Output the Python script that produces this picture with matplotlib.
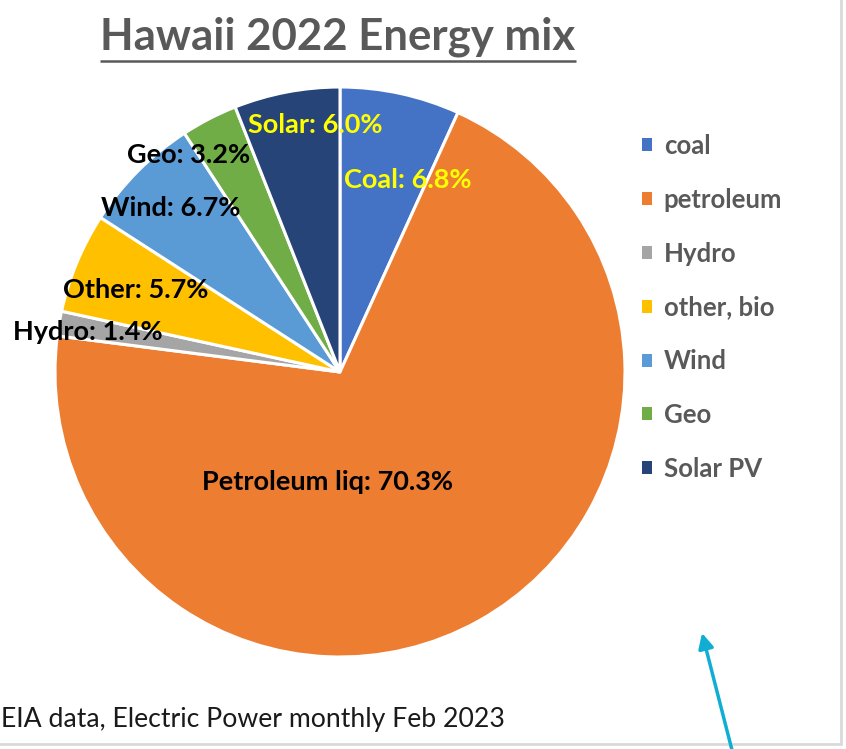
import matplotlib
matplotlib.use("Agg")
import matplotlib.pyplot as plt
from matplotlib.patches import Patch, Rectangle

# Hawaii 2022 electricity mix (EIA Electric Power Monthly, Feb 2023)
sources = ["coal", "petroleum", "Hydro", "other, bio", "Wind", "Geo", "Solar PV"]
label_names = ["Coal", "Petroleum liq", "Hydro", "Other", "Wind", "Geo", "Solar"]
shares = [6.8, 70.3, 1.4, 5.7, 6.7, 3.2, 6.0]
colors = ["#4472C4", "#ED7D31", "#A5A5A5", "#FFC000", "#5B9BD5", "#70AD47", "#264478"]
label_colors = ["#FFFF00", "black", "black", "black", "black", "black", "#FFFF00"]

# label anchor points, in pixels from the top-left corner
label_pos = [(408, 180), (327, 482), (88, 332), (136, 290), (171, 208), (189, 155), (315, 125)]

W, H = 846, 749
FONT = "Lato"

fig = plt.figure(figsize=(W / 100, H / 100), dpi=100)
ax = fig.add_axes([0, 0, 1, 1])

wedges, _ = ax.pie(
    shares,
    colors=colors,
    startangle=90,
    counterclock=False,
    center=(340, H - 372),
    radius=285,
    wedgeprops=dict(edgecolor="white", linewidth=2.2),
)
ax.set_xlim(0, W)
ax.set_ylim(0, H)
ax.set_aspect("equal")
ax.axis("off")

for name, val, col, (px, py) in zip(label_names, shares, label_colors, label_pos):
    ax.text(px, H - py, f"{name}: {val:.1f}%", color=col, fontsize=19.5,
            fontweight="bold", family=FONT, ha="center", va="center")

# title with underline
title = ax.text(338, H - 37, "Hawaii 2022 Energy mix", color="#595959", fontsize=31.5,
                fontweight="bold", family=FONT, ha="center", va="center")
fig.canvas.draw()
bb = title.get_window_extent().transformed(ax.transData.inverted())
ax.plot([bb.x0, bb.x1], [H - 61, H - 61], color="#595959", linewidth=1.8,
        solid_capstyle="butt")

handles = [Patch(facecolor=c, edgecolor="none") for c in colors]
leg = ax.legend(handles, sources, loc="upper left", bbox_to_anchor=(642, H - 134),
                bbox_transform=ax.transData, frameon=False, borderpad=0,
                borderaxespad=0, handlelength=0.4, handleheight=0.4,
                handletextpad=0.45, labelspacing=1.16,
                prop=dict(family=FONT, weight="bold", size=18.5))
for t in leg.get_texts():
    t.set_color("#595959")

ax.text(1, H - 719, "EIA data, Electric Power monthly Feb 2023", color="#1a1a1a",
        fontsize=19.2, family=FONT, ha="left", va="center")

# chart frame edges
ax.add_patch(Rectangle((-10, H - 744), W - 5 + 10, 800, fill=False,
                       edgecolor="#D9D9D9", linewidth=2, clip_on=False))

ax.annotate("", xy=(702, H - 633), xytext=(733, -5),
            arrowprops=dict(arrowstyle="-|>,head_length=0.9,head_width=0.45",
                            color="#10AED3", linewidth=2.5, shrinkA=0, shrinkB=0),
            annotation_clip=False)

fig.savefig("out.png", dpi=100)
